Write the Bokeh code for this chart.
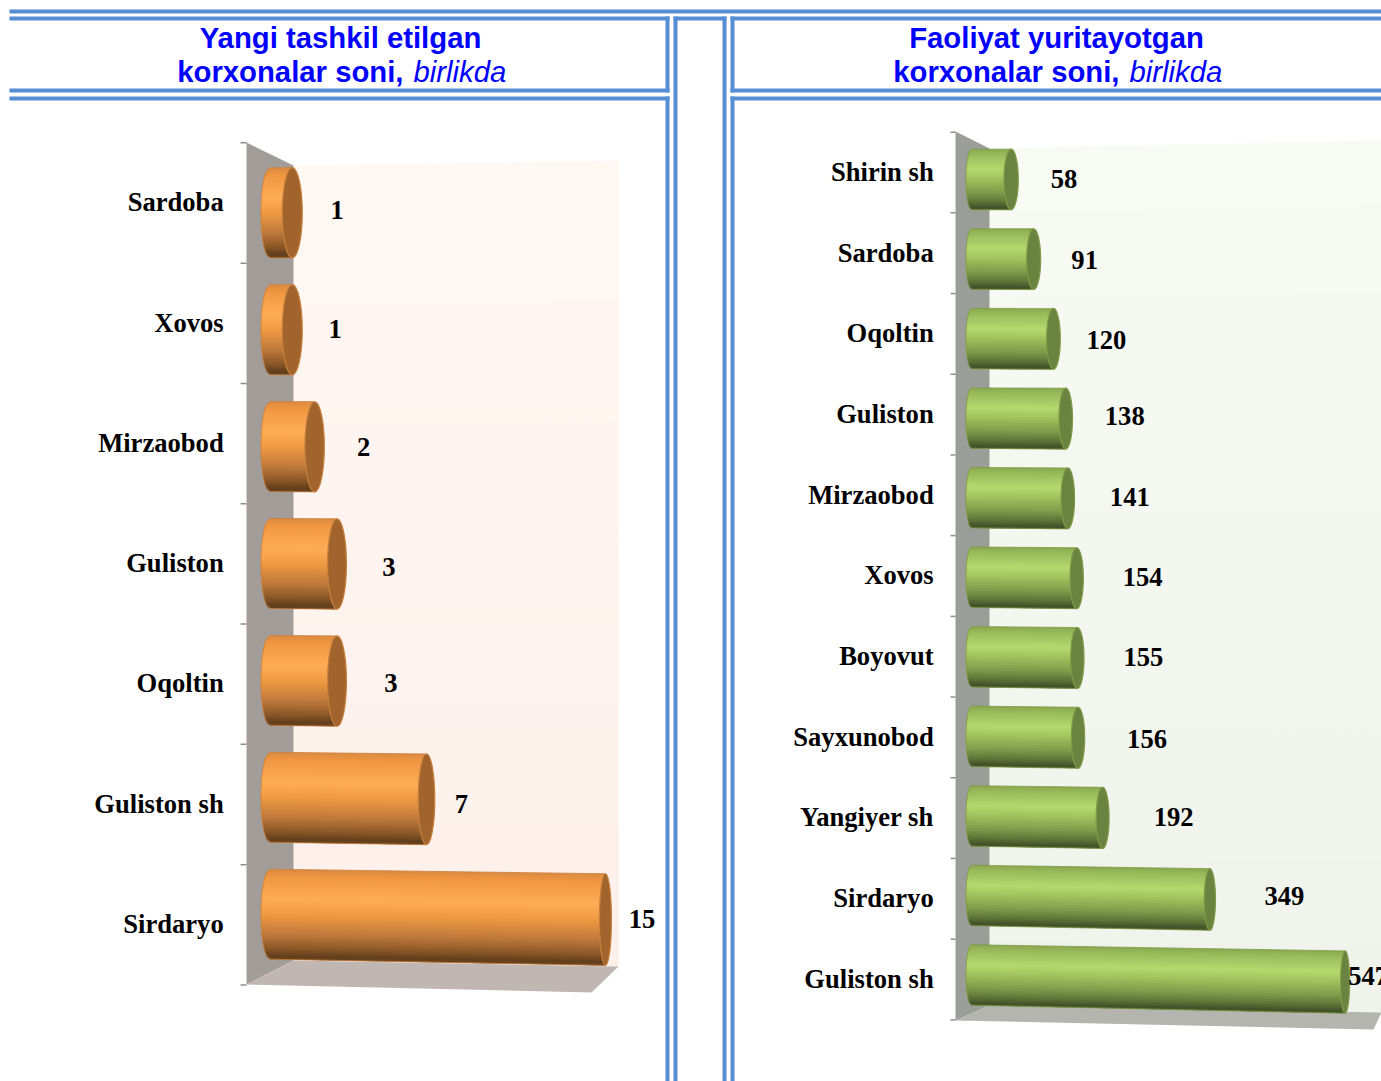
import math
from bokeh.plotting import figure
from bokeh.models import Range1d
from bokeh.core.properties import value
from bokeh.embed import file_html
from bokeh.resources import INLINE

# ---------- data ----------
left_categories = ["Sardoba", "Xovos", "Mirzaobod", "Guliston", "Oqoltin", "Guliston sh", "Sirdaryo"]
left_values = [1, 1, 2, 3, 3, 7, 15]
right_categories = ["Shirin sh", "Sardoba", "Oqoltin", "Guliston", "Mirzaobod", "Xovos", "Boyovut",
                    "Sayxunobod", "Yangiyer sh", "Sirdaryo", "Guliston sh"]
right_values = [58, 91, 120, 138, 141, 154, 155, 156, 192, 349, 547]
left_title = ["Yangi tashkil etilgan", "korxonalar soni,", "birlikda"]
right_title = ["Faoliyat yuritayotgan", "korxonalar soni,", "birlikda"]

# ---------- layout (page pixels) ----------
PX0, PX1, PY0, PY1 = 0, 1381, 0, 1081
BLUE = "#558ED5"
ORANGE_STOPS = [(0, "#D98A42"), (.08, "#F09640"), (.33, "#FFAD58"), (.5, "#F09A42"), (.72, "#BF7A3C"),
                (.88, "#8A5727"), (.97, "#5F3D1C"), (1, "#6E4820")]
GREEN_STOPS = [(0, "#88A850"), (.08, "#98B85A"), (.33, "#B5D96E"), (.5, "#A0C05C"), (.72, "#7E9A4A"),
               (.88, "#5A7036"), (.97, "#424F28"), (1, "#4C5E2C")]


def hexrgb(c):
    return [int(c[i:i + 2], 16) for i in (1, 3, 5)]


def mix(a, b, f):
    ca, cb = hexrgb(a), hexrgb(b)
    return "#%02X%02X%02X" % tuple(round(x + (y - x) * f) for x, y in zip(ca, cb))


def ramp(stops, f):
    for (f0, c0), (f1, c1) in zip(stops, stops[1:]):
        if f <= f1:
            return mix(c0, c1, (f - f0) / (f1 - f0))
    return stops[-1][1]


p = figure(width=PX1 - PX0, height=PY1 - PY0, output_backend="svg", toolbar_location=None,
           x_range=Range1d(PX0, PX1), y_range=Range1d(PY1, PY0), min_border=0,
           outline_line_color=None, background_fill_color="white", border_fill_color="white")
p.axis.visible = False
p.grid.visible = False

# frame of double rules
rects = [(9, 1381, 9, 13), (9, 669, 16, 20), (673, 726, 16, 20), (730, 1381, 16, 20),
         (9, 669, 88, 92), (730, 1381, 88, 92), (9, 669, 96, 100), (730, 1381, 96, 100),
         (665, 669, 16, 92), (665, 669, 96, 1081), (673, 677, 16, 1081), (722, 726, 16, 1081),
         (730, 734, 16, 92), (730, 734, 96, 1081)]
p.quad(left=[r[0] for r in rects], right=[r[1] for r in rects], top=[r[2] for r in rects],
       bottom=[r[3] for r in rects], fill_color=BLUE, line_color=None)


def panel(name, cats, vals, title, tc, cfg):
    """cfg holds the pixel geometry; the marks go through the panel's own ranges."""
    x0, sx = cfg["x0"], cfg["sx"]
    y0, sy = cfg["y0"], cfg["sy"]
    ay0, asy = cfg["ay0"], cfg["asy"]
    xr, yr, ar = name + "_x", name + "_y", name + "_a"
    p.extra_x_ranges[xr] = Range1d((PX0 - x0) / sx, (PX1 - x0) / sx)
    p.extra_y_ranges[yr] = Range1d((PY1 - y0) / sy, (PY0 - y0) / sy)
    p.extra_y_ranges[ar] = Range1d((PY1 - ay0) / asy, (PY0 - ay0) / asy)

    # 3-D box
    wx0, wx1 = cfg["wall_x"]
    tl, tr, bl, br = cfg["wall_y"]
    n = 40
    xs, ys, cs = [], [], []
    for k in range(n):
        f0, f1 = k / n, min(1, (k + 2) / n)
        xs.append([wx0, wx1, wx1, wx0])
        ys.append([tl + (bl - tl) * f0, tr + (br - tr) * f0, tr + (br - tr) * f1, tl + (bl - tl) * f1])
        cs.append(mix(cfg["back"][0], cfg["back"][1], (k + .5) / n))
    p.patches(xs, ys, fill_color=cs, line_color=None)
    sx0, st, sb = cfg["side"]
    p.patch([sx0, wx0, wx0, sx0], [st, tl, bl, sb], fill_color=cfg["side_c"], line_color=None)
    p.patch([sx0, wx0, wx1] + cfg["floor_x"], [sb, bl, br] + cfg["floor_y"],
            fill_color=cfg["floor_c"], line_color=None)

    # ticks
    ticks = [i - 0.5 for i in range(len(cats) + 1)]
    p.segment(x0=[cfg["tick"][0]] * len(ticks), x1=[cfg["tick"][1]] * len(ticks), y0=ticks, y1=ticks,
              line_color="#8E8E8E", line_width=1.5, y_range_name=ar)

    # category labels
    p.text([cfg["lab_x"]] * len(cats), list(range(len(cats))), text=cats, y_range_name=name + "_t",
           text_font=value("Liberation Serif"), text_font_style="bold", text_font_size=cfg["fs"],
           text_align="right", text_baseline="middle", text_color="black")

    # cylinders: strips painted top to bottom, each overlapping the next
    m = 40
    H0, dH = cfg["H"], cfg["dH"]
    vmax = max(vals)
    sxs, sys, scs, ols_x, ols_y = [], [], [], [], []
    ev, ey, ew, eh = [], [], [], []

    def left_x(t):
        return -cfg["hw0"] * math.sqrt(max(0, 1 - t * t)) / sx

    for i, v in enumerate(vals):
        slope = cfg["sl0"] + cfg["sl1"] * i
        run = v * sx
        yend = i + slope * run / sy
        H1 = H0 + dH * run
        for k in range(m):
            t0, t1 = -1 + 2 * k / m, min(1, -1 + 2 * (k + 2) / m)
            tm = -1 + 2 * (k + 1) / m
            sxs.append([left_x(t0), v, v, left_x(t1), left_x(tm)])
            sys.append([i + t0 * H0 / 2 / sy, yend + t0 * H1 / 2 / sy, yend + t1 * H1 / 2 / sy,
                        i + t1 * H0 / 2 / sy, i + tm * H0 / 2 / sy])
            scs.append(ramp(cfg["stops"], (k + .5) / m))
        ts = [-1 + 2 * q / 16 for q in range(17)]
        ols_x.append([v] + [left_x(t) for t in ts] + [v])
        ols_y.append([yend - H1 / 2 / sy] + [i + t * H0 / 2 / sy for t in ts] + [yend + H1 / 2 / sy])
        ev.append(v)
        ey.append(yend)
        ew.append(2 * (cfg["hw1"][0] + (cfg["hw1"][1] - cfg["hw1"][0]) * v / vmax))
        eh.append(H1)
    p.patches(sxs, sys, fill_color=scs, line_color=None, x_range_name=xr, y_range_name=yr)
    p.multi_line(ols_x, ols_y, line_color=cfg["edge"], line_width=1, line_alpha=0.8, line_join="round",
                 x_range_name=xr, y_range_name=yr)
    p.ellipse(x=ev, y=ey, width=ew, height=eh, width_units="screen", height_units="screen",
              fill_color=cfg["cap"], line_color=cfg["edge"], line_width=1.2, x_range_name=xr, y_range_name=yr)

    # value labels
    lx = [v + dx / sx for v, dx in zip(vals, cfg["val_dx"])]
    ly = [i + dy / sy for i, dy in enumerate(cfg["val_dy"])]
    p.text(lx, ly, text=[str(v) for v in vals], x_range_name=xr, y_range_name=yr,
           text_font=value("Liberation Serif"), text_font_style="bold", text_font_size=cfg["fs"],
           text_align="center", text_baseline="middle", text_color="black")

    # title
    tf = value("Liberation Sans")
    p.text([tc], [37], text=[title[0]], text_font=tf, text_font_style="bold", text_font_size="29.3px",
           text_align="center", text_baseline="middle", text_color="#0000FF")
    p.text([cfg["title_split"]], [71], text=[title[1]], text_font=tf, text_font_style="bold", text_font_size="29.3px",
           text_align="right", text_baseline="middle", text_color="#0000FF")
    p.text([cfg["title_split"] + 10], [71], text=[title[2]], text_font=tf, text_font_style="italic",
           text_font_size="29.3px", text_align="left", text_baseline="middle", text_color="#0000FF")


# category labels sit 1px above the tick-based scale
p.extra_y_ranges["l_t"] = Range1d((PY1 - 201.7) / 120.3, (PY0 - 201.7) / 120.3)
p.extra_y_ranges["r_t"] = Range1d((PY1 - 171.3) / 80.7, (PY0 - 171.3) / 80.7)

panel("l", left_categories, left_values, left_title, 340, dict(
    x0=269.4, sx=22.37, y0=212.3, sy=116.9, ay0=202.5, asy=120.3,
    wall_x=(293, 618), wall_y=(165, 160, 960, 966), back=("#FFF8F3", "#FEF0EB"),
    side=(246, 142, 984), side_c="#A39D9A", floor_x=[591], floor_y=[992], floor_c="#C0B6B2",
    tick=(240, 246), lab_x=223.2, fs="26.6px",
    H=90, dH=0.005, sl0=-0.002, sl1=0.003, hw0=9, hw1=(10.3, 6),
    stops=ORANGE_STOPS, edge="#C8803C", cap="#A0642C", title_split=403,
    val_dx=[45, 43, 49, 52, 54, 35, 36.5], val_dy=[-2.8, -0.8, 0.4, 3.4, 2.4, 6.6, 4.5],
))
panel("r", right_categories, right_values, right_title, 1056, dict(
    x0=971, sx=0.683, y0=179, sy=79.55, ay0=172, asy=80.7,
    wall_x=(989, 1381), wall_y=(148, 140, 1005, 1012), back=("#F8FAF4", "#F0F2EC"),
    side=(955, 131, 1020), side_c="#9A9D98", floor_x=[1373], floor_y=[1029], floor_c="#B3B5AE",
    tick=(950, 955), lab_x=933.2, fs="26.6px",
    H=60.5, dH=0.005, sl0=0, sl1=0.0019, hw0=5.5, hw1=(7.5, 4.5),
    stops=GREEN_STOPS, edge="#7F9B45", cap="#6B8340", title_split=1119,
    val_dx=[53, 51, 53, 59, 62, 66, 66, 69, 71, 74.5, 23], val_dy=[-1, 0.5, 1.5, -2, -0.5, 0, 0.5, 3, 1, 0.5, 1],
))

open("out.html", "w").write(file_html(p, INLINE))
